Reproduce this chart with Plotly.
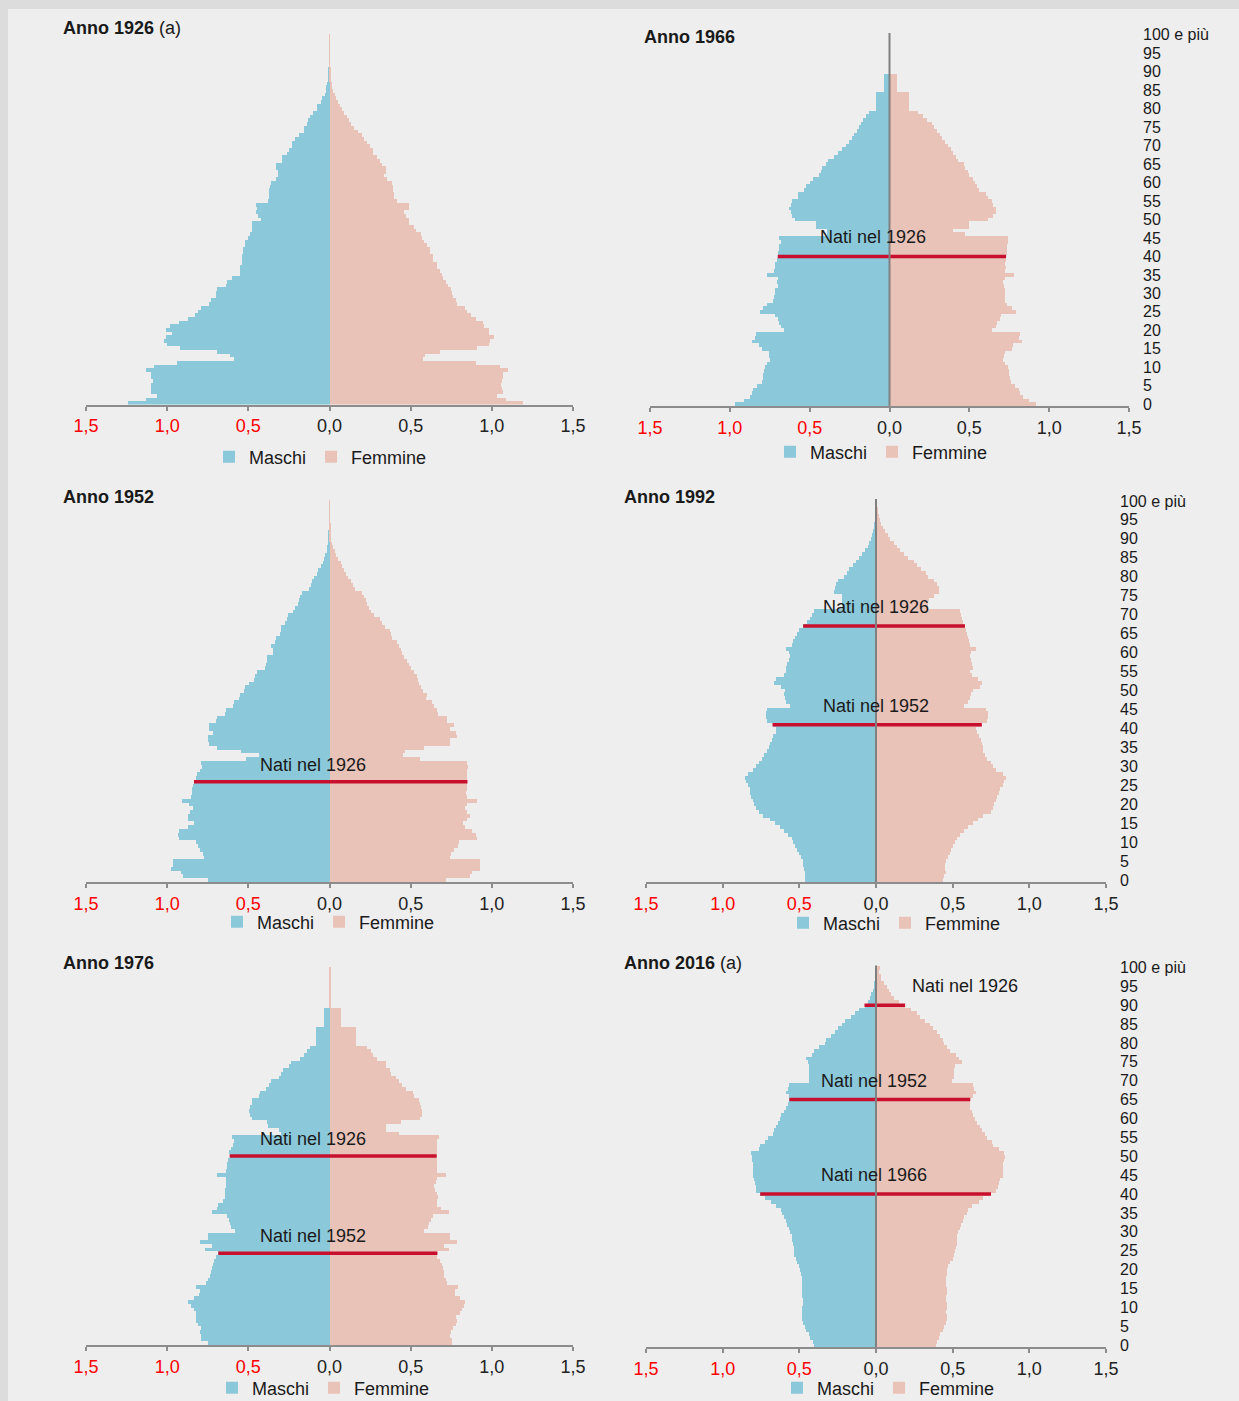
"""
Piramidi delle età della popolazione italiana: 1926, 1952, 1966, 1976, 1992, 2016.
Valori in percentuale sulla popolazione totale, per singolo anno di età e sesso.
"""

import plotly.graph_objects as go

# ─────────────────────────────────────────────────────────────────────────────
# DATI
# ─────────────────────────────────────────────────────────────────────────────

ETA = list(range(101))
ETA_TICKS = list(range(0, 101, 5))
ETA_LABELS = [str(a) for a in range(0, 100, 5)] + ["100 e più"]

X_TICKS = [-1.5, -1.0, -0.5, 0.0, 0.5, 1.0, 1.5]
X_LABELS = ["1,5", "1,0", "0,5", "0,0", "0,5", "1,0", "1,5"]

MASCHI_1926 = [
    1.24, 1.13, 1.06, 1.10, 1.10, 1.10, 1.09, 1.10, 1.10, 1.13,
    1.08, 0.94, 0.59, 0.61, 0.69, 0.92, 1.00, 1.02, 1.01, 0.97,
    1.01, 0.98, 0.93, 0.87, 0.83, 0.81, 0.79, 0.74, 0.73, 0.70,
    0.70, 0.69, 0.64, 0.63, 0.60, 0.55, 0.55, 0.55, 0.54, 0.54,
    0.54, 0.53, 0.53, 0.52, 0.52, 0.50, 0.49, 0.48, 0.475, 0.475,
    0.42, 0.44, 0.45, 0.445, 0.455, 0.38, 0.37, 0.37, 0.37, 0.365,
    0.36, 0.33, 0.32, 0.32, 0.33, 0.33, 0.29, 0.29, 0.26, 0.25,
    0.23, 0.23, 0.21, 0.19, 0.16, 0.16, 0.14, 0.13, 0.12, 0.10,
    0.08, 0.08, 0.055, 0.045, 0.03, 0.022, 0.02, 0.014, 0.01, 0.008,
    0.005, 0.004, 0.003, 0.002, 0.0015, 0.001, 0.0008, 0.0005, 0.0003, 0.0002,
    0.0002,
]
FEMMINE_1926 = [
    1.195, 1.09, 1.03, 1.07, 1.06, 1.055, 1.06, 1.07, 1.07, 1.10,
    1.05, 0.90, 0.575, 0.59, 0.68, 0.91, 0.985, 0.99, 1.015, 0.98,
    0.98, 0.95, 0.945, 0.90, 0.87, 0.845, 0.835, 0.785, 0.78, 0.76,
    0.755, 0.75, 0.73, 0.72, 0.70, 0.69, 0.68, 0.665, 0.66, 0.64,
    0.64, 0.62, 0.62, 0.60, 0.58, 0.57, 0.565, 0.53, 0.52, 0.49,
    0.49, 0.47, 0.46, 0.49, 0.49, 0.415, 0.40, 0.395, 0.39, 0.39,
    0.385, 0.355, 0.335, 0.345, 0.35, 0.325, 0.31, 0.29, 0.27, 0.265,
    0.25, 0.23, 0.21, 0.20, 0.175, 0.15, 0.13, 0.12, 0.105, 0.09,
    0.078, 0.064, 0.051, 0.039, 0.031, 0.023, 0.018, 0.014, 0.010, 0.008,
    0.006, 0.004, 0.003, 0.002, 0.0015, 0.001, 0.0008, 0.0006, 0.0004, 0.0003,
    0.0003,
]

MASCHI_1952 = [
    0.75, 0.905, 0.915, 0.975, 0.965, 0.965, 0.775, 0.78, 0.795, 0.81,
    0.82, 0.93, 0.935, 0.925, 0.87, 0.835, 0.87, 0.87, 0.86, 0.84,
    0.865, 0.91, 0.855, 0.845, 0.85, 0.84, 0.835, 0.82, 0.815, 0.795,
    0.785, 0.79, 0.515, 0.435, 0.545, 0.695, 0.74, 0.75, 0.75, 0.715,
    0.745, 0.74, 0.70, 0.695, 0.645, 0.635, 0.595, 0.59, 0.56, 0.55,
    0.525, 0.52, 0.495, 0.465, 0.46, 0.445, 0.395, 0.39, 0.385, 0.385,
    0.35, 0.35, 0.36, 0.335, 0.33, 0.305, 0.30, 0.30, 0.275, 0.26,
    0.255, 0.225, 0.215, 0.195, 0.19, 0.18, 0.17, 0.125, 0.117, 0.11,
    0.096, 0.08, 0.072, 0.055, 0.043, 0.035, 0.027, 0.018, 0.014, 0.010,
    0.007, 0.005, 0.004, 0.003, 0.002, 0.0015, 0.001, 0.0008, 0.0005, 0.0003,
    0.0003,
]
FEMMINE_1952 = [
    0.72, 0.865, 0.88, 0.93, 0.93, 0.925, 0.745, 0.75, 0.765, 0.79,
    0.795, 0.91, 0.90, 0.875, 0.835, 0.825, 0.845, 0.865, 0.845, 0.835,
    0.85, 0.91, 0.845, 0.84, 0.845, 0.845, 0.85, 0.845, 0.845, 0.85,
    0.855, 0.85, 0.56, 0.455, 0.465, 0.58, 0.74, 0.745, 0.785, 0.78,
    0.74, 0.765, 0.725, 0.725, 0.67, 0.66, 0.645, 0.63, 0.595, 0.60,
    0.575, 0.565, 0.55, 0.545, 0.54, 0.52, 0.50, 0.49, 0.475, 0.46,
    0.445, 0.44, 0.43, 0.415, 0.385, 0.38, 0.37, 0.34, 0.325, 0.31,
    0.275, 0.255, 0.245, 0.23, 0.225, 0.215, 0.20, 0.16, 0.145, 0.135,
    0.117, 0.10, 0.092, 0.078, 0.068, 0.051, 0.039, 0.031, 0.023, 0.016,
    0.012, 0.009, 0.007, 0.005, 0.004, 0.003, 0.002, 0.0015, 0.001, 0.0008,
    0.0006,
]

MASCHI_1966 = [
    0.97, 0.91, 0.875, 0.86, 0.855, 0.83, 0.80, 0.795, 0.79, 0.785,
    0.78, 0.77, 0.75, 0.755, 0.755, 0.80, 0.82, 0.86, 0.84, 0.835,
    0.66, 0.68, 0.695, 0.70, 0.715, 0.81, 0.79, 0.77, 0.73, 0.725,
    0.72, 0.72, 0.70, 0.705, 0.70, 0.765, 0.725, 0.72, 0.715, 0.705,
    0.70, 0.70, 0.695, 0.69, 0.68, 0.69, 0.39, 0.39, 0.46, 0.46,
    0.59, 0.61, 0.62, 0.63, 0.615, 0.61, 0.575, 0.57, 0.535, 0.52,
    0.50, 0.48, 0.44, 0.43, 0.42, 0.395, 0.385, 0.35, 0.32, 0.30,
    0.275, 0.255, 0.235, 0.22, 0.205, 0.19, 0.18, 0.165, 0.15, 0.13,
    0.082, 0.082, 0.082, 0.082, 0.082, 0.034, 0.034, 0.034, 0.034, 0.034,
    0, 0, 0, 0, 0, 0, 0, 0, 0, 0,
    0,
]
FEMMINE_1966 = [
    0.92, 0.875, 0.835, 0.82, 0.81, 0.785, 0.76, 0.755, 0.75, 0.75,
    0.74, 0.725, 0.71, 0.715, 0.725, 0.765, 0.775, 0.83, 0.81, 0.82,
    0.64, 0.665, 0.675, 0.69, 0.70, 0.795, 0.77, 0.735, 0.725, 0.725,
    0.725, 0.725, 0.72, 0.71, 0.725, 0.78, 0.725, 0.73, 0.725, 0.73,
    0.73, 0.735, 0.735, 0.735, 0.74, 0.745, 0.475, 0.395, 0.50, 0.50,
    0.615, 0.65, 0.665, 0.67, 0.65, 0.645, 0.615, 0.605, 0.56, 0.55,
    0.535, 0.52, 0.495, 0.49, 0.475, 0.465, 0.43, 0.415, 0.40, 0.385,
    0.365, 0.35, 0.33, 0.315, 0.295, 0.28, 0.265, 0.235, 0.21, 0.18,
    0.123, 0.123, 0.123, 0.123, 0.123, 0.048, 0.048, 0.048, 0.048, 0.048,
    0, 0, 0, 0, 0, 0, 0, 0, 0, 0,
    0,
]

MASCHI_1976 = [
    0.75, 0.79, 0.79, 0.795, 0.79, 0.81, 0.82, 0.825, 0.825, 0.835,
    0.855, 0.87, 0.835, 0.805, 0.80, 0.825, 0.76, 0.75, 0.735, 0.73,
    0.725, 0.72, 0.71, 0.70, 0.685, 0.77, 0.725, 0.795, 0.75, 0.75,
    0.585, 0.605, 0.61, 0.62, 0.63, 0.725, 0.69, 0.685, 0.655, 0.645,
    0.645, 0.645, 0.64, 0.635, 0.64, 0.695, 0.635, 0.63, 0.63, 0.625,
    0.615, 0.62, 0.605, 0.595, 0.59, 0.60, 0.30, 0.31, 0.38, 0.385,
    0.48, 0.49, 0.495, 0.49, 0.48, 0.475, 0.435, 0.43, 0.39, 0.375,
    0.36, 0.31, 0.30, 0.285, 0.25, 0.24, 0.18, 0.16, 0.14, 0.12,
    0.084, 0.084, 0.084, 0.084, 0.084, 0.035, 0.035, 0.035, 0.035, 0.035,
    0.003, 0.003, 0.003, 0.003, 0.003, 0.003, 0.003, 0.003, 0.003, 0.003,
    0.003,
]
FEMMINE_1976 = [
    0.755, 0.755, 0.745, 0.75, 0.76, 0.78, 0.785, 0.78, 0.805, 0.815,
    0.83, 0.835, 0.805, 0.77, 0.77, 0.79, 0.725, 0.72, 0.705, 0.705,
    0.70, 0.69, 0.68, 0.665, 0.665, 0.735, 0.705, 0.785, 0.745, 0.745,
    0.585, 0.605, 0.615, 0.625, 0.635, 0.735, 0.685, 0.66, 0.665, 0.67,
    0.66, 0.65, 0.645, 0.655, 0.66, 0.72, 0.66, 0.66, 0.66, 0.66,
    0.66, 0.66, 0.66, 0.66, 0.665, 0.675, 0.43, 0.345, 0.345, 0.44,
    0.555, 0.57, 0.57, 0.565, 0.555, 0.55, 0.52, 0.515, 0.47, 0.445,
    0.43, 0.41, 0.38, 0.375, 0.35, 0.345, 0.29, 0.27, 0.255, 0.23,
    0.162, 0.162, 0.162, 0.162, 0.162, 0.072, 0.072, 0.072, 0.072, 0.072,
    0.01, 0.01, 0.01, 0.01, 0.01, 0.01, 0.01, 0.01, 0.01, 0.01,
    0.01,
]

MASCHI_1992 = [
    0.46, 0.46, 0.465, 0.47, 0.475, 0.475, 0.49, 0.50, 0.515, 0.53,
    0.54, 0.55, 0.575, 0.60, 0.625, 0.66, 0.69, 0.735, 0.76, 0.78,
    0.795, 0.805, 0.815, 0.82, 0.825, 0.835, 0.845, 0.855, 0.835, 0.805,
    0.78, 0.765, 0.745, 0.73, 0.71, 0.70, 0.69, 0.68, 0.67, 0.655,
    0.65, 0.675, 0.71, 0.72, 0.715, 0.71, 0.56, 0.59, 0.595, 0.60,
    0.595, 0.62, 0.665, 0.655, 0.60, 0.59, 0.59, 0.58, 0.565, 0.56,
    0.565, 0.59, 0.55, 0.54, 0.53, 0.515, 0.50, 0.475, 0.45, 0.43,
    0.42, 0.405, 0.22, 0.22, 0.225, 0.225, 0.275, 0.265, 0.26, 0.245,
    0.21, 0.19, 0.175, 0.15, 0.13, 0.11, 0.09, 0.07, 0.055, 0.045,
    0.033, 0.025, 0.018, 0.012, 0.008, 0.005, 0.003, 0.002, 0.0015, 0.001,
    0.0008,
]
FEMMINE_1992 = [
    0.44, 0.445, 0.455, 0.45, 0.45, 0.455, 0.47, 0.48, 0.49, 0.505,
    0.515, 0.53, 0.55, 0.575, 0.60, 0.635, 0.665, 0.70, 0.75, 0.76,
    0.77, 0.78, 0.79, 0.80, 0.81, 0.825, 0.835, 0.845, 0.83, 0.785,
    0.765, 0.75, 0.725, 0.71, 0.70, 0.695, 0.69, 0.685, 0.67, 0.66,
    0.655, 0.69, 0.725, 0.73, 0.73, 0.715, 0.575, 0.60, 0.615, 0.62,
    0.63, 0.675, 0.69, 0.665, 0.625, 0.615, 0.63, 0.625, 0.62, 0.615,
    0.62, 0.65, 0.61, 0.605, 0.60, 0.595, 0.585, 0.58, 0.57, 0.56,
    0.555, 0.55, 0.34, 0.34, 0.345, 0.38, 0.41, 0.41, 0.395, 0.375,
    0.34, 0.325, 0.295, 0.27, 0.245, 0.21, 0.185, 0.155, 0.14, 0.12,
    0.09, 0.075, 0.06, 0.045, 0.035, 0.025, 0.018, 0.012, 0.008, 0.005,
    0.006,
]

MASCHI_2016 = [
    0.405, 0.41, 0.43, 0.44, 0.455, 0.465, 0.475, 0.48, 0.48, 0.48,
    0.48, 0.475, 0.475, 0.48, 0.485, 0.485, 0.485, 0.485, 0.485, 0.49,
    0.495, 0.505, 0.515, 0.525, 0.535, 0.535, 0.535, 0.54, 0.545, 0.55,
    0.56, 0.57, 0.58, 0.59, 0.60, 0.61, 0.62, 0.65, 0.685, 0.725,
    0.755, 0.78, 0.785, 0.79, 0.795, 0.80, 0.80, 0.80, 0.805, 0.81,
    0.81, 0.815, 0.765, 0.755, 0.725, 0.705, 0.675, 0.665, 0.65, 0.64,
    0.625, 0.62, 0.60, 0.59, 0.575, 0.565, 0.57, 0.59, 0.575, 0.57,
    0.435, 0.44, 0.44, 0.435, 0.44, 0.445, 0.455, 0.42, 0.405, 0.375,
    0.33, 0.325, 0.295, 0.27, 0.245, 0.22, 0.20, 0.165, 0.14, 0.11,
    0.075, 0.054, 0.04, 0.03, 0.022, 0.015, 0.01, 0.006, 0.004, 0.003,
    0.005,
]
FEMMINE_2016 = [
    0.39, 0.40, 0.41, 0.42, 0.435, 0.445, 0.455, 0.46, 0.46, 0.455,
    0.46, 0.46, 0.455, 0.455, 0.46, 0.46, 0.455, 0.455, 0.455, 0.46,
    0.465, 0.47, 0.485, 0.505, 0.51, 0.515, 0.52, 0.525, 0.525, 0.53,
    0.535, 0.545, 0.555, 0.565, 0.575, 0.595, 0.60, 0.625, 0.67, 0.70,
    0.75, 0.785, 0.795, 0.805, 0.81, 0.825, 0.825, 0.83, 0.83, 0.835,
    0.84, 0.835, 0.80, 0.765, 0.755, 0.725, 0.71, 0.69, 0.675, 0.66,
    0.645, 0.635, 0.625, 0.615, 0.61, 0.615, 0.635, 0.65, 0.64, 0.635,
    0.495, 0.51, 0.51, 0.51, 0.515, 0.56, 0.54, 0.52, 0.485, 0.46,
    0.445, 0.435, 0.42, 0.40, 0.37, 0.355, 0.32, 0.29, 0.27, 0.225,
    0.19, 0.15, 0.12, 0.10, 0.085, 0.07, 0.05, 0.035, 0.03, 0.02,
    0.025,
]

# Generazioni evidenziate: (etichetta, età in cui cade la linea rossa)
COORTI_1926 = []
COORTI_1952 = [("Nati nel 1926", 26)]
COORTI_1966 = [("Nati nel 1926", 40)]
COORTI_1976 = [("Nati nel 1926", 50), ("Nati nel 1952", 24)]
COORTI_1992 = [("Nati nel 1926", 67), ("Nati nel 1952", 41)]
COORTI_2016 = [("Nati nel 1926", 90), ("Nati nel 1952", 65), ("Nati nel 1966", 40)]

DATI = {
    1926: (MASCHI_1926, FEMMINE_1926, COORTI_1926),
    1952: (MASCHI_1952, FEMMINE_1952, COORTI_1952),
    1966: (MASCHI_1966, FEMMINE_1966, COORTI_1966),
    1976: (MASCHI_1976, FEMMINE_1976, COORTI_1976),
    1992: (MASCHI_1992, FEMMINE_1992, COORTI_1992),
    2016: (MASCHI_2016, FEMMINE_2016, COORTI_2016),
}

# ─────────────────────────────────────────────────────────────────────────────
# STILE E IMPAGINAZIONE
# ─────────────────────────────────────────────────────────────────────────────

W, H = 1239, 1401
FONT = "Liberation Sans, Arial, sans-serif"

BLU = "#8BC9DA"
ROSA = "#E9C3B8"
ROSSO = "#C8102E"
GRIGIO_ASSE = "#8C8C8C"
GRIGIO_CENTRO = "#808080"
TESTO = "#1A1A1A"
SFONDO = "#EEEEEE"
BORDO = "#DCDCDC"

# box = riquadro del grafico in pixel (sinistra, alto, destra, basso)
PANNELLI = [
    dict(anno=1926, nota=True, box=(86, 33.5, 573, 404.5), tit=(61, 28), leg=(209, 457), destra=False),
    dict(anno=1966, nota=False, box=(650, 33, 1129, 406), tit=(642, 37), leg=(770, 452), destra=True),
    dict(anno=1952, nota=False, box=(86, 500, 573, 882), tit=(61, 497), leg=(217, 922), destra=False),
    dict(anno=1992, nota=False, box=(646, 499, 1106, 882), tit=(622, 497), leg=(783, 923), destra=True),
    dict(anno=1976, nota=False, box=(86, 967, 573, 1345), tit=(61, 963), leg=(212, 1388), destra=False),
    dict(anno=2016, nota=True, box=(646, 965.5, 1106, 1347), tit=(622, 963), leg=(777, 1388), destra=True),
]

# posizione orizzontale delle scritte "Nati nel ..." (unità dell'asse x)
POS_ETICHETTA = {
    (1952, 26): -0.10, (1966, 40): -0.105,
    (1976, 50): -0.10, (1976, 24): -0.10,
    (1992, 67): 0.0, (1992, 41): 0.0,
    (2016, 90): 0.58, (2016, 65): -0.01, (2016, 40): -0.01,
}


def px_x(v):
    return v / W


def px_y(v):
    return 1 - v / H


def testo_tick_x():
    out = []
    for v, t in zip(X_TICKS, X_LABELS):
        out.append(f'<span style="color:#FF0000">{t}</span>' if v < 0 else t)
    return out


fig = go.Figure()
shapes = [
    dict(type="rect", xref="paper", yref="paper", x0=px_x(8), x1=1, y0=0, y1=px_y(9),
         fillcolor=SFONDO, line=dict(width=0), layer="below"),
]
annotations = []
layout_assi = {}

for i, p in enumerate(PANNELLI, start=1):
    sfx = "" if i == 1 else str(i)
    xa, ya = "x" + sfx, "y" + sfx
    maschi, femmine, coorti = DATI[p["anno"]]

    fig.add_trace(go.Bar(
        y=ETA, x=[-v for v in maschi], orientation="h", name="Maschi",
        marker=dict(color=BLU, line=dict(width=0)),
        customdata=maschi, hovertemplate="Età %{y}<br>%{customdata:.2f}%<extra>Maschi</extra>",
        xaxis=xa, yaxis=ya, legend="legend" + sfx,
    ))
    fig.add_trace(go.Bar(
        y=ETA, x=femmine, orientation="h", name="Femmine",
        marker=dict(color=ROSA, line=dict(width=0)),
        hovertemplate="Età %{y}<br>%{x:.2f}%<extra>Femmine</extra>",
        xaxis=xa, yaxis=ya, legend="legend" + sfx,
    ))

    x0, y0, x1, y1 = p["box"]
    layout_assi["xaxis" + sfx] = dict(
        domain=[px_x(x0), px_x(x1)], anchor=ya, range=[-1.5, 1.5],
        tickvals=X_TICKS, ticktext=testo_tick_x(),
        tickfont=dict(size=18, color="#222222"),
        showline=True, linecolor=GRIGIO_ASSE, linewidth=2,
        ticks="outside", ticklen=4, tickwidth=1.5, tickcolor=GRIGIO_ASSE,
        ticklabelstandoff=0,
        showgrid=False, zeroline=False, fixedrange=True,
    )
    asse_y = dict(
        domain=[px_y(y1), px_y(y0)], anchor=xa, range=[-0.5, 100.5],
        showgrid=False, zeroline=False, showline=False, fixedrange=True,
    )
    if p["destra"]:
        asse_y.update(side="right", tickvals=ETA_TICKS, ticktext=ETA_LABELS,
                      ticks="", ticklabelstandoff=13,
                      tickfont=dict(size=16, color=TESTO))
    else:
        asse_y.update(showticklabels=False, ticks="")
    layout_assi["yaxis" + sfx] = asse_y

    # linee rosse delle generazioni
    for etichetta, eta in coorti:
        shapes.append(dict(
            type="line", xref=xa, yref=ya, x0=-maschi[eta], x1=femmine[eta], y0=eta, y1=eta,
            line=dict(color=ROSSO, width=3.5), layer="above",
        ))
        annotations.append(dict(
            xref=xa, yref=ya, x=POS_ETICHETTA[(p["anno"], eta)], y=eta,
            text=etichetta, showarrow=False, yshift=19 if p["destra"] else 17,
            font=dict(size=18, color=TESTO), xanchor="center", yanchor="middle",
        ))

    # asse verticale centrale nei pannelli di destra
    if p["destra"]:
        shapes.append(dict(
            type="line", xref=xa, yref=ya + " domain", x0=0, x1=0, y0=0, y1=1,
            line=dict(color=GRIGIO_CENTRO, width=2), layer="above",
        ))

    titolo = f"<b>Anno {p['anno']}</b>" + (" (a)" if p["nota"] else "")
    annotations.append(dict(
        xref="paper", yref="paper", x=px_x(p["tit"][0]), y=px_y(p["tit"][1]),
        text=titolo, showarrow=False, xanchor="left", yanchor="middle",
        font=dict(size=18, color=TESTO),
    ))

    layout_assi["legend" + sfx] = dict(
        orientation="h", x=px_x(p["leg"][0]), y=px_y(p["leg"][1]),
        xanchor="left", yanchor="middle", bgcolor="rgba(0,0,0,0)",
        font=dict(size=18, color=TESTO), itemclick=False, itemdoubleclick=False,
    )

fig.update_layout(
    width=W, height=H, autosize=False,
    # margini a zero e bloccati: le posizioni in pixel restano quelle del riferimento
    margin=dict(l=0, r=0, t=0, b=0, autoexpand=False),
    paper_bgcolor=BORDO, plot_bgcolor="rgba(0,0,0,0)",
    font=dict(family=FONT, size=18, color=TESTO),
    barmode="relative", bargap=0,
    shapes=shapes, annotations=annotations,
    **layout_assi,
)

# la pagina HTML ha un margine di 8px sul body: lo azzero così la figura riempie la finestra
fig.write_html(
    "out.html",
    config={"displayModeBar": False},
    post_script="document.body.style.margin='0px';document.body.style.overflow='hidden';",
)
